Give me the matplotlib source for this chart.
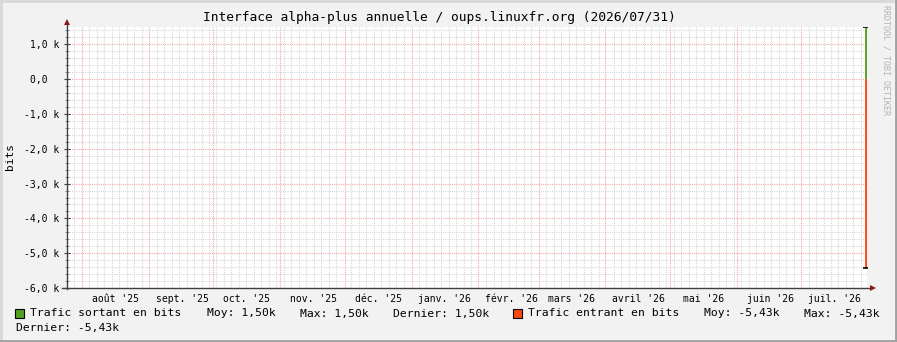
import numpy as np
import matplotlib
matplotlib.use("Agg")
import matplotlib.pyplot as plt
import matplotlib.dates as mdates
from datetime import datetime

title = "Interface alpha-plus annuelle / oups.linuxfr.org (2026/07/31)"
t_start = datetime(2025, 7, 25, 0)
t_end = datetime(2026, 7, 31, 12)
months = ["août '25", "sept. '25", "oct. '25", "nov. '25", "déc. '25", "janv. '26",
          "févr. '26", "mars '26", "avril '26", "mai '26", "juin '26", "juil. '26"]
sample_time = [datetime(2026, 7, 30, 20)]
sortant = [1500.0]     # Trafic sortant en bits
entrant = [-5430.0]    # Trafic entrant en bits (negatif)
legend_sortant = ["Trafic sortant en bits", "Moy: 1,50k", "Max: 1,50k", "Dernier: 1,50k"]
legend_entrant = ["Trafic entrant en bits", "Moy: -5,43k", "Max: -5,43k", "Dernier: -5,43k"]

mono = "DejaVu Sans Mono"
W, H = 897, 342
fig = plt.figure(figsize=(W / 100, H / 100), dpi=100)
fig.patch.set_facecolor("#f2f2f2")

def fx(px):
    return px / W

def fy(py):
    return 1 - py / H

# 3d frame around the image
fig.add_artist(plt.Line2D([0, 1], [fy(1), fy(1)], color="#d8d8d8", lw=2))
fig.add_artist(plt.Line2D([fx(1), fx(1)], [0, 1], color="#d8d8d8", lw=2))
fig.add_artist(plt.Line2D([0, 1], [fy(341), fy(341)], color="#a0a0a0", lw=2))
fig.add_artist(plt.Line2D([fx(896), fx(896)], [0, 1], color="#a0a0a0", lw=2))

ax = fig.add_axes([fx(67), fy(288), fx(800), 261 / H])
ax.set_facecolor("white")
x0, x1 = mdates.date2num(t_start), mdates.date2num(t_end)
ax.set_xlim(x0, x1)
ax.set_ylim(-6000, 1500)

# grid
for y in np.arange(-6000, 1501, 200):
    major = y % 1000 == 0
    ax.axhline(y, color="#f4a6a6" if major else "#d8d8d8", lw=0.8,
               ls=(0, (1, 1)), zorder=0)
month_starts = mdates.MonthLocator().tick_values(t_start, t_end)
for x in np.arange(x0 + 3.3, x1, 3.48):
    if min(abs(x - m) for m in month_starts) > 1.2:
        ax.axvline(x, color="#d8d8d8", lw=0.8, ls=(0, (1, 1)), zorder=0)
for m in month_starts:
    if x0 < m < x1:
        ax.axvline(m, color="#f4a6a6", lw=0.8, ls=(0, (1, 1)), zorder=0)

# data
st = mdates.date2num(sample_time)
ax.vlines(st, 0, sortant, color="#55a01d", lw=2, zorder=3)
ax.vlines(st, 0, entrant, color="#ff4514", lw=2, zorder=3)
ax.plot(st, sortant, marker="_", color="black", ms=4, mew=1.2, ls="none", zorder=4)
ax.plot(st, entrant, marker="_", color="black", ms=4, mew=1.2, ls="none", zorder=4)

# axes with arrow heads
for s in ax.spines.values():
    s.set_visible(False)
fig.add_artist(plt.Line2D([fx(67), fx(67)], [fy(289), fy(24)], color="#404040", lw=1))
fig.add_artist(plt.Line2D([fx(62), fx(871)], [fy(288), fy(288)], color="#404040", lw=1))
fig.add_artist(plt.Line2D([fx(67)], [fy(22)], marker="^", ms=5, color="#8b1a1a", mew=0))
fig.add_artist(plt.Line2D([fx(873)], [fy(288)], marker=">", ms=5, color="#8b1a1a", mew=0))

yt = np.arange(-6000, 1001, 1000)
ax.set_yticks(yt)
ax.set_yticklabels([("%d,0 k" % (v // 1000)) if v != 0 else "0,0  " for v in yt],
                   fontfamily=mono, fontsize=7)
ax.set_yticks(np.arange(-6000, 1501, 200), minor=True)
ax.tick_params(axis="y", which="major", direction="inout", length=5, width=0.8,
               color="#404040", pad=3)
ax.tick_params(axis="y", which="minor", direction="inout", length=3, width=0.6,
               color="#808080")

mids = [mdates.date2num(datetime(2025 + (7 + i) // 12, (7 + i) % 12 + 1, 16, 12))
        for i in range(len(months))]
ax.set_xticks(mids)
ax.set_xticklabels(months, fontfamily=mono, fontsize=7)
ax.tick_params(axis="x", length=0, pad=4)

ax.set_ylabel("bits", fontfamily=mono, fontsize=8)
ax.yaxis.set_label_coords((15 - 67) / 800, (288 - 157) / 261)

fig.text(fx(439), fy(18), title, fontfamily=mono, fontsize=9.3, ha="center", va="center")
fig.text(fx(886), fy(5), "RRDTOOL / TOBI OETIKER", fontfamily=mono, fontsize=6,
         color="#b4b4b4", rotation=270, ha="center", va="top")

# legend
def swatch(px, color):
    fig.add_artist(plt.Rectangle((fx(px), fy(318)), fx(9), 9 / H, facecolor=color,
                                 edgecolor="black", lw=0.8))

ly = fy(313.5)
swatch(15, "#55a01d")
for px, s in zip([30, 207, 300, 393], legend_sortant):
    fig.text(fx(px), ly, s, fontfamily=mono, fontsize=8.2, va="center")
swatch(513, "#ff4514")
for px, s in zip([528, 704, 804], legend_entrant[:3]):
    fig.text(fx(px), ly, s, fontfamily=mono, fontsize=8.2, va="center")
fig.text(fx(16), fy(328), legend_entrant[3], fontfamily=mono, fontsize=8.2, va="center")

fig.savefig("out.png", dpi=100, facecolor=fig.get_facecolor())
